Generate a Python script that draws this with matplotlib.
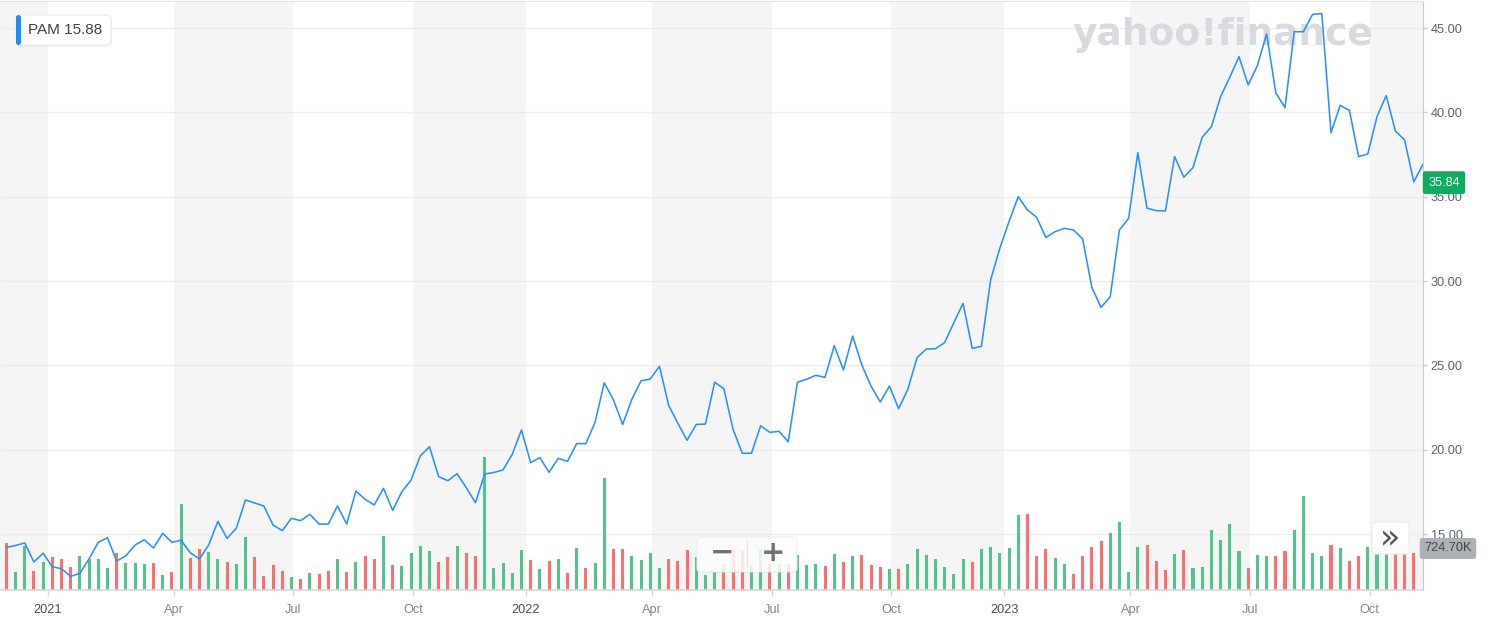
import numpy as np
import pandas as pd
import matplotlib
matplotlib.use("Agg")
import matplotlib.pyplot as plt
import matplotlib.transforms as mtransforms
from matplotlib.patches import FancyBboxPatch

W, H = 1497, 634

# weekly closes (PAM), starting week of 2020-11-30
price = [14.20, 14.32, 14.47, 13.34, 13.86, 13.06, 12.94, 12.49, 12.67, 13.53,
         14.51, 14.78, 13.40, 13.71, 14.35, 14.66, 14.17, 15.04, 14.51, 14.63,
         13.89, 13.52, 14.35, 15.75, 14.74, 15.34, 17.02, 16.84, 16.66, 15.53,
         15.20, 15.93, 15.79, 16.17, 15.59, 15.59, 16.66, 15.59, 17.55, 17.06,
         16.72, 17.71, 16.40, 17.51, 18.20, 19.63, 20.18, 18.40, 18.16, 18.58,
         17.75, 16.86, 18.56, 18.65, 18.80, 19.73, 21.17, 19.23, 19.53, 18.66,
         19.49, 19.31, 20.36, 20.36, 21.62, 23.97, 22.95, 21.50, 22.99, 24.09,
         24.19, 24.95, 22.63, 21.57, 20.56, 21.50, 21.52, 24.00, 23.62, 21.21,
         19.79, 19.79, 21.42, 21.03, 21.09, 20.47, 24.00, 24.18, 24.41, 24.29,
         26.17, 24.73, 26.74, 25.02, 23.77, 22.83, 23.77, 22.43, 23.58, 25.46,
         25.97, 25.99, 26.35, 27.53, 28.68, 26.01, 26.13, 30.07, 31.95, 33.53,
         35.01, 34.22, 33.79, 32.58, 32.93, 33.13, 33.03, 32.51, 29.63, 28.44,
         29.07, 33.03, 33.72, 37.62, 34.32, 34.18, 34.16, 37.38, 36.16, 36.73,
         38.53, 39.16, 40.94, 42.09, 43.31, 41.63, 42.78, 44.66, 41.16, 40.29,
         44.79, 44.79, 45.82, 45.86, 38.80, 40.42, 40.13, 37.38, 37.54, 39.75,
         41.00, 38.90, 38.37, 35.88, 36.93]

# weekly volume in thousands
volume_k = [933, 357, 873, 387, 556, 655, 615, 457, 675, 615,
            615, 437, 734, 536, 536, 510, 536, 292, 357, 1707,
            635, 814, 754, 615, 556, 510, 1052, 655, 278, 496,
            377, 258, 218, 331, 312, 377, 609, 357, 556, 675,
            609, 1072, 496, 476, 728, 873, 774, 556, 655, 873,
            728, 675, 2640, 443, 542, 343, 794, 596, 417, 570,
            615, 343, 840, 443, 542, 2229, 814, 814, 669, 596,
            740, 443, 621, 570, 794, 661, 292, 387, 526, 814,
            784, 476, 804, 516, 516, 516, 695, 496, 516, 476,
            715, 546, 675, 695, 496, 447, 417, 417, 516, 814,
            695, 615, 447, 318, 615, 546, 814, 863, 734, 834,
            1489, 1509, 665, 814, 635, 516, 318, 665, 863, 973,
            1141, 1340, 367, 863, 893, 566, 397, 715, 794, 437,
            466, 1191, 993, 1310, 774, 437, 695, 665, 665, 774,
            1191, 1866, 734, 665, 893, 834, 566, 665, 863, 834,
            754, 734, 734, 725]

# 1 = up week (green), 0 = down week (red)
vol_up = [0, 1, 1, 0, 1, 0, 0, 0, 1, 1,
          1, 1, 0, 1, 1, 1, 0, 1, 0, 1,
          0, 0, 1, 1, 0, 1, 1, 0, 0, 0,
          0, 1, 0, 1, 0, 0, 1, 0, 1, 0,
          0, 1, 0, 1, 1, 1, 1, 0, 0, 1,
          0, 0, 1, 1, 1, 1, 1, 0, 1, 0,
          1, 0, 1, 0, 1, 1, 0, 0, 1, 1,
          1, 1, 0, 0, 0, 1, 1, 1, 0, 0,
          0, 1, 1, 0, 1, 0, 1, 1, 1, 0,
          1, 0, 1, 0, 0, 0, 1, 0, 1, 1,
          1, 1, 1, 1, 1, 0, 1, 1, 1, 1,
          1, 0, 0, 0, 1, 1, 0, 0, 0, 0,
          1, 1, 1, 1, 0, 0, 0, 1, 0, 1,
          1, 1, 1, 1, 1, 0, 1, 1, 0, 0,
          1, 1, 1, 1, 0, 1, 0, 0, 1, 1,
          1, 0, 0, 0]

price_ticks = [15, 20, 25, 30, 35, 40, 45]
last_price = 35.84
last_volume = "724.70K"

# bars are evenly spaced by week (index axis, like the Yahoo chart)
dates = pd.date_range("2020-11-30", periods=len(price), freq="7D")
xi = np.arange(len(price))
xv = xi[:len(volume_k)]

# quarter ticks: year marks sit between bars, month marks on the first bar
quarters = pd.date_range("2021-01-01", "2023-10-01", freq="QS")
tick_pos = []
for qd in quarters:
    k = int(np.argmax(dates >= qd))
    tick_pos.append(k - 0.5 if qd.month == 1 else k + 0.2)
tick_lab = [str(d.year) if d.month == 1 else d.strftime("%b") for d in quarters]
x_left, x_right = -0.685, 154.0

GREEN = "#50c48a"
RED = "#ff6e6e"
TXT = "#5b636a"

fig = plt.figure(figsize=(W / 100, H / 100), dpi=100)
rect = [0, 44 / H, 1423 / W, 589 / H]
axv = fig.add_axes(rect)
ax = fig.add_axes(rect, sharex=axv)
ax.patch.set_visible(False)
pix = mtransforms.IdentityTransform()

# quarter shading
edges = [x_left] + tick_pos + [x_right]
for k in range(0, len(edges) - 1, 2):
    axv.axvspan(edges[k], edges[k + 1], color="#f5f5f5", lw=0, zorder=0)

# price grid drawn behind the bars
gtrans = mtransforms.blended_transform_factory(axv.transAxes, ax.transData)
axv.hlines(price_ticks, 0, 1, transform=gtrans, color="#ececec", lw=0.9, zorder=1)

# watermark
axv.text(1223, H - 35, "yahoo!finance", transform=pix, ha="center", va="center",
         fontsize=27, fontweight="heavy", color="#d9dadf", zorder=1.5)

# volume bars
axv.bar(xv, volume_k, width=0.33,
        color=[GREEN if u else RED for u in vol_up], lw=0, zorder=2)
axv.set_ylim(0, 11692)
axv.set_yticks([])
axv.tick_params(bottom=False, labelbottom=False)
for s in axv.spines.values():
    s.set_visible(False)

# price line
ax.plot(xi, price, color="#2a91f5", lw=1.15, zorder=3)
ax.set_ylim(11.68, 46.61)
ax.set_xlim(x_left, x_right)
ax.yaxis.tick_right()
ax.set_yticks(price_ticks)
ax.set_yticklabels([f"{v:.2f}" for v in price_ticks])
ax.tick_params(axis="y", length=3, width=1, color="#c8cacd", pad=2.5,
               labelsize=9.2, labelcolor=TXT)
ax.set_xticks(tick_pos)
ax.set_xticklabels(tick_lab)
ax.tick_params(axis="x", length=4, width=1, color="#d6d8db", pad=6,
               labelsize=9.2)
for qd, lbl in zip(quarters, ax.get_xticklabels()):
    lbl.set_color("#474d53" if qd.month == 1 else "#80868b")
for t in ax.get_xticklabels() + ax.get_yticklabels():
    t.set_family("Liberation Sans")

ax.spines["left"].set_visible(False)
ax.spines["top"].set_color("#e4e4e4")
ax.spines["right"].set_color("#c9cbce")
ax.spines["bottom"].set_color("#d6d8db")
ax.spines["bottom"].set_linewidth(1.2)

# current price / volume labels
ptrans = mtransforms.blended_transform_factory(ax.transAxes, ax.transData)
ax.text(1444 / 1423, last_price, f"{last_price:.2f}", transform=ptrans,
        ha="center", va="center", fontsize=9.2, color="white",
        family="Liberation Sans", clip_on=False, zorder=5,
        bbox=dict(boxstyle="round,pad=0.42,rounding_size=0.2", fc="#0aae5e", ec="none"))
ax.text(1448 / 1423, 0.0705, last_volume, transform=ax.transAxes,
        ha="center", va="center", fontsize=9.2, color="#3f454b",
        family="Liberation Sans", clip_on=False, zorder=5,
        bbox=dict(boxstyle="round,pad=0.35,rounding_size=0.2", fc="#adb0b5", ec="none"))

# legend box
fig.patches.append(FancyBboxPatch((16, H - 46.5), 96, 31, boxstyle="round,pad=0,rounding_size=5",
                                  transform=pix, fc="#000000", alpha=0.06, ec="none", zorder=5))
fig.patches.append(FancyBboxPatch((16, H - 45), 95, 30, boxstyle="round,pad=0,rounding_size=5",
                                  transform=pix, fc="white", ec="#ececec", lw=0.8, zorder=6))
fig.patches.append(FancyBboxPatch((16, H - 45), 5, 30, boxstyle="round,pad=0,rounding_size=2.5",
                                  transform=pix, fc="#1a8cff", ec="none", zorder=7))
fig.text(28, H - 30.5, "PAM 15.88", transform=pix, ha="left", va="center",
         fontsize=11, color="#3c4249", family="Liberation Sans", zorder=8)

# zoom widget
fig.patches.append(FancyBboxPatch((697, H - 573), 100, 36, boxstyle="round,pad=0,rounding_size=4",
                                  transform=pix, fc="#000000", alpha=0.05, ec="none", zorder=5))
fig.patches.append(FancyBboxPatch((697, H - 572), 100, 35, boxstyle="round,pad=0,rounding_size=4",
                                  transform=pix, fc="white", alpha=0.85, ec="#eeeeee", lw=0.8, zorder=6))
fig.lines.append(plt.Line2D([747, 747], [H - 568, H - 541], transform=pix,
                            color="#e2e2e2", lw=0.8, zorder=7))
fig.text(722, H - 553, "\u2212", transform=pix, ha="center", va="center",
         fontsize=21, fontweight="bold", color="#707479", zorder=8)
fig.text(773, H - 553, "+", transform=pix, ha="center", va="center",
         fontsize=21, fontweight="bold", color="#707479", zorder=8)

# scroll button
fig.patches.append(FancyBboxPatch((1372, H - 554), 37, 32, boxstyle="round,pad=0,rounding_size=4",
                                  transform=pix, fc="white", ec="#ececec", lw=0.8, zorder=6))
fig.text(1390.5, H - 538.5, "\u00bb", transform=pix, ha="center", va="center",
         fontsize=24, color="#4b5157", zorder=8)

fig.savefig("out.png", dpi=100)
